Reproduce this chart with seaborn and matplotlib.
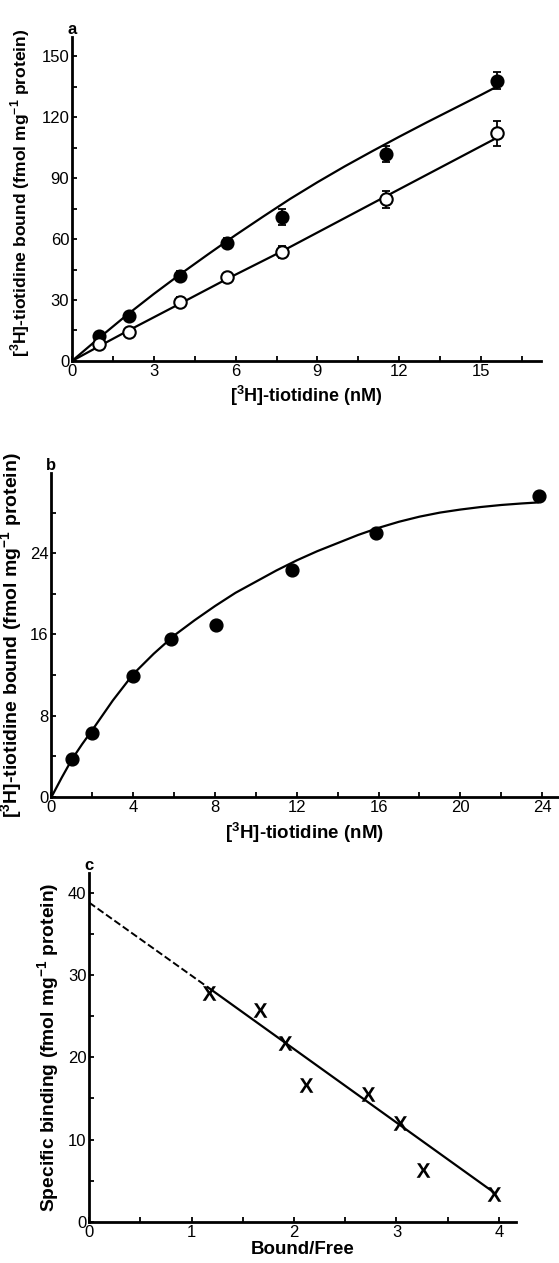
import matplotlib
matplotlib.use('Agg')
import matplotlib.pyplot as plt
import seaborn as sns
import pandas as pd
from matplotlib.ticker import MultipleLocator

# Panel a - total and specific binding
a_x = [1.0, 2.1, 3.95, 5.7, 7.7, 11.5, 15.6]
a_filled = [12.5, 22.0, 42.0, 58.0, 71.0, 102.0, 138.0]
a_filled_err = [2.0, 2.0, 2.5, 2.5, 4.0, 4.0, 4.3]
a_open = [8.5, 14.5, 29.0, 41.5, 53.5, 79.5, 112.0]
a_open_err = [1.5, 1.5, 2.5, 2.0, 3.0, 4.0, 6.0]
a_fit_filled_x = [0, 1, 2, 3, 4, 5, 6, 7, 8, 9, 10, 11, 12, 13, 14, 15, 15.6]
a_fit_filled_y = [0, 11.4, 22.5, 33.0, 43.0, 52.6, 62.0, 71.0, 79.8, 88.0,
                  95.8, 103.2, 110.4, 117.4, 124.2, 131.0, 135.2]
a_fit_open_x = [0, 1, 2, 4, 5.7, 7.7, 11.5, 15.6]
a_fit_open_y = [0, 7.3, 14.5, 28.5, 40.5, 54.0, 81.0, 110.0]

# Panel b - saturation
b_x = [1.0, 2.0, 4.0, 5.85, 8.05, 11.75, 15.85, 23.85]
b_y = [3.7, 6.3, 11.9, 15.6, 16.9, 22.3, 26.0, 29.6]
b_fit_x = [0, 0.5, 1, 1.5, 2, 3, 4, 5, 6, 7, 8, 9, 10, 11, 12, 13, 14, 15,
           16, 17, 18, 19, 20, 21, 22, 23, 23.8]
b_fit_y = [0, 1.9, 3.7, 5.2, 6.6, 9.5, 12.1, 14.1, 15.9, 17.4, 18.8, 20.1,
           21.2, 22.3, 23.3, 24.2, 25.0, 25.8, 26.5, 27.1, 27.6, 28.0, 28.3,
           28.55, 28.75, 28.9, 29.0]

# Panel c - Scatchard
c_x = [1.17, 1.67, 1.91, 2.12, 2.72, 3.03, 3.26, 3.95]
c_y = [27.8, 25.8, 21.8, 16.7, 15.6, 12.0, 6.3, 3.4]
c_dash_x = [0, 1.16]
c_dash_y = [38.8, 28.5]
c_line_x = [1.16, 3.95]
c_line_y = [28.5, 3.6]

sns.set_theme(style='ticks')
plt.rcParams['font.family'] = ['Liberation Sans', 'DejaVu Sans']
plt.rcParams['mathtext.fontset'] = 'custom'
plt.rcParams['mathtext.rm'] = 'Liberation Sans:bold'
plt.rcParams['mathtext.bf'] = 'Liberation Sans:bold'
plt.rcParams['text.color'] = 'black'

fig = plt.figure(figsize=(5.59, 12.63), dpi=100)
ax_a = fig.add_axes([0.1288, 0.7142, 0.839, 0.2565])
ax_b = fig.add_axes([0.0921, 0.369, 0.907, 0.2565])
ax_c = fig.add_axes([0.1596, 0.0325, 0.764, 0.2763])


def lab(size):
    return dict(fontsize=size, fontweight='bold', color='black')


def style_axes(ax, xmaj, xmin, ymaj, ymin):
    for side in ['top', 'right']:
        ax.spines[side].set_visible(False)
    for side in ['left', 'bottom']:
        ax.spines[side].set_linewidth(2.0)
        ax.spines[side].set_color('black')
    ax.xaxis.set_major_locator(MultipleLocator(xmaj))
    ax.xaxis.set_minor_locator(MultipleLocator(xmin))
    ax.yaxis.set_major_locator(MultipleLocator(ymaj))
    ax.yaxis.set_minor_locator(MultipleLocator(ymin))
    ax.tick_params(which='both', direction='in', length=3.5, width=1.3,
                   color='black', labelsize=12, pad=2, labelcolor='black')
    ax.set_facecolor('white')


# ---- a ----
ax = ax_a
sns.lineplot(ax=ax, x=a_fit_filled_x, y=a_fit_filled_y, color='black', lw=1.6)
sns.lineplot(ax=ax, x=a_fit_open_x, y=a_fit_open_y, color='black', lw=1.6)
ax.errorbar(a_x, a_filled, yerr=a_filled_err, fmt='none', ecolor='black',
            elinewidth=1.3, capsize=3, capthick=1.3, zorder=3)
ax.errorbar(a_x, a_open, yerr=a_open_err, fmt='none', ecolor='black',
            elinewidth=1.3, capsize=3, capthick=1.3, zorder=3)
sns.scatterplot(ax=ax, x=a_x, y=a_filled, color='black', s=80,
                edgecolor='black', linewidth=1.2, zorder=4)
sns.scatterplot(ax=ax, x=a_x, y=a_open, color='white', s=80,
                edgecolor='black', linewidth=1.5, zorder=4)
ax.set_xlim(0, 17.2)
ax.set_ylim(0, 159.5)
style_axes(ax, 3, 1.5, 30, 15)
ax.set_xlabel(r'[$^{3}$H]-tiotidine (nM)', **lab(13))
ax.set_ylabel(r'[$^{3}$H]-tiotidine bound (fmol mg$^{-1}$ protein)', **lab(12.6))
ax.yaxis.set_label_coords(-0.085, 0.52)
ax.text(0, 1.0, 'a', transform=ax.transAxes, ha='center', va='bottom',
        fontsize=12, fontweight='bold', color='black')

# ---- b ----
ax = ax_b
sns.lineplot(ax=ax, x=b_fit_x, y=b_fit_y, color='black', lw=1.6)
sns.scatterplot(ax=ax, x=b_x, y=b_y, color='black', s=85,
                edgecolor='black', linewidth=1.0, zorder=4)
ax.set_xlim(0, 24.8)
ax.set_ylim(0, 31.9)
style_axes(ax, 4, 2, 8, 4)
ax.set_xlabel(r'[$^{3}$H]-tiotidine (nM)', **lab(13.5))
ax.set_ylabel(r'[$^{3}$H]-tiotidine bound (fmol mg$^{-1}$ protein)', **lab(14))
ax.text(0, 1.0, 'b', transform=ax.transAxes, ha='center', va='bottom',
        fontsize=12, fontweight='bold', color='black')

# ---- c ----
ax = ax_c
sns.lineplot(ax=ax, x=c_dash_x, y=c_dash_y, color='black', lw=1.4, linestyle='--')
sns.lineplot(ax=ax, x=c_line_x, y=c_line_y, color='black', lw=1.6)
sns.scatterplot(ax=ax, x=c_x, y=c_y, marker=r'$\mathbf{X}$', color='black',
                s=110, linewidth=0, zorder=4)
ax.set_xlim(0, 4.17)
ax.set_ylim(0, 42.4)
style_axes(ax, 1, 0.5, 10, 5)
ax.set_xlabel('Bound/Free', labelpad=1, **lab(13.5))
ax.set_ylabel(r'Specific binding (fmol mg$^{-1}$ protein)', **lab(13.9))
ax.text(0, 1.0, 'c', transform=ax.transAxes, ha='center', va='bottom',
        fontsize=12, fontweight='bold', color='black')

fig.savefig('out.png', dpi=100, facecolor='white')
